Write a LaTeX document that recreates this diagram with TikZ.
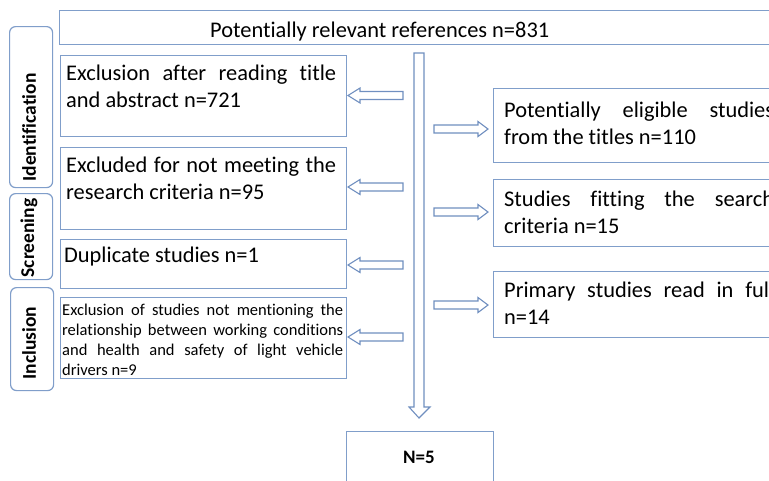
\documentclass[tikz,border=0pt]{standalone}
\usepackage{fontspec}
\setmainfont{Carlito}[Ligatures=NoCommon]
\hyphenpenalty=10000
\exhyphenpenalty=10000
\definecolor{boxc}{RGB}{128,158,202}
\definecolor{arrc}{RGB}{112,143,192}
\newcommand\leftblock[1]{\draw[barrow] (403,#1-4) -- (360,#1-4) -- (360,#1-7.5) -- (348,#1) -- (360,#1+7.5) -- (360,#1+4) -- (403,#1+4) -- cycle;}
\newcommand\rightblock[1]{\draw[barrow] (434,#1-4) -- (478,#1-4) -- (478,#1-7.5) -- (488,#1) -- (478,#1+7.5) -- (478,#1+4) -- (434,#1+4) -- cycle;}
\tikzset{
  box/.style={draw=boxc, line width=1.2pt, rectangle, anchor=north west, inner sep=0pt},
  sidebox/.style={box, rounded corners=6pt},
  txt/.style={anchor=north west, inner sep=0pt, align=justify, font=\fontsize{22.4}{27}\selectfont},
  smalltxt/.style={anchor=north west, inner sep=0pt, align=justify, font=\fontsize{16.5}{20}\selectfont},
  sidetxt/.style={rotate=90, inner sep=0pt, font=\fontsize{19.5}{20}\selectfont\bfseries},
  barrow/.style={draw=arrc, line width=1.1pt, fill=white, line join=miter},
}
\begin{document}
\begin{tikzpicture}[x=1pt,y=-1pt]
\clip (0,0) rectangle (769,480);
\fill[white] (0,0) rectangle (769,480);
% side labels
\node[sidebox, minimum width=43pt, minimum height=161pt] (sid) at (9,26) {};
\node[sidebox, minimum width=43pt, minimum height=86pt] (sscr) at (9,193) {};
\node[sidebox, minimum width=43pt, minimum height=103pt] (sinc) at (10,287) {};
\node[sidetxt] (tid) at (29,127.5) {Identification};
\node[sidetxt] (tscr) at (29,238) {Screening};
\node[sidetxt] (tinc) at (29,343) {Inclusion};
% top box
\node[box, minimum width=740pt, minimum height=34pt] (top) at (59,10) {};
\node[anchor=base west, inner sep=0pt, font=\fontsize{22.4}{27}\selectfont] (ttop) at (210,37) {Potentially relevant references n=831};
% left boxes
\node[box, minimum width=286pt, minimum height=81pt] (b1) at (60,55) {};
\node[txt, text width=270pt] (t1) at (66,61) {\strut Exclusion after reading title\linebreak and abstract n=721};
\node[box, minimum width=286pt, minimum height=82pt] (b2) at (60,147) {};
\node[txt, text width=270pt] (t2) at (66,153) {\strut Excluded for not meeting the\linebreak research criteria n=95};
\node[box, minimum width=286pt, minimum height=49pt] (b3) at (60,239) {};
\node[txt, text width=270pt] (t3) at (64,243) {\strut Duplicate studies n=1};
\node[box, minimum width=286pt, minimum height=81pt] (b4) at (60,297) {};
\node[smalltxt, text width=281pt] (t4) at (62,301) {\strut Exclusion of studies not mentioning the\linebreak relationship between working conditions\linebreak and health and safety of light vehicle\linebreak drivers n=9};
% right boxes
\node[box, minimum width=300pt, minimum height=74pt] (r1) at (493,88) {};
\node[txt, text width=270pt] (tr1) at (504,98) {\strut Potentially eligible studies\linebreak from the titles n=110};
\node[box, minimum width=300pt, minimum height=67pt] (r2) at (493,179) {};
\node[txt, text width=270pt] (tr2) at (504,187) {\strut Studies fitting the search\linebreak criteria n=15};
\node[box, minimum width=300pt, minimum height=66pt] (r3) at (493,271) {};
\node[txt, text width=270pt] (tr3) at (504,278) {\strut Primary studies read in full\linebreak n=14};
% final box
\node[box, minimum width=147pt, minimum height=70pt] (n5) at (346,431) {};
\node[anchor=base, inner sep=0pt, font=\fontsize{19}{20}\selectfont\bfseries] (tn5) at (419,463) {N=5};
% vertical arrow
\draw[barrow] (414,53) -- (424,53) -- (424,407) -- (430,407) -- (419,418) -- (409,407) -- (414,407) -- cycle;
% left arrows
\leftblock{95.5}
\leftblock{187}
\leftblock{265}
\leftblock{337}
% right arrows
\rightblock{129}
\rightblock{212}
\rightblock{305}
\end{tikzpicture}
\end{document}
